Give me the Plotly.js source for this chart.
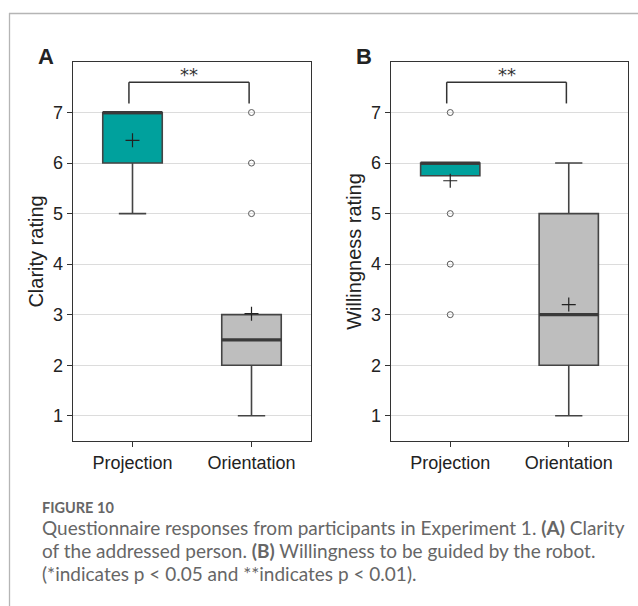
<!DOCTYPE html>
<html><head><meta charset="utf-8">
<script src="https://cdn.plot.ly/plotly-3.0.1.min.js"></script>
<style>html,body{margin:0;padding:0;background:#fff;}#chart{width:638px;height:606px;}</style>
</head><body><div id="chart"></div>
<script>
// ---- data ----
const categories = ["Projection", "Orientation"];
const boxColors = ["#00A19D", "#BEBEBE"];
// Panel A: Clarity rating
const clarityQ1 = [6, 2];
const clarityMedian = [7, 2.5];
const clarityQ3 = [7, 3];
const clarityLow = [5, 1];
const clarityHigh = [7, 3];
const clarityMean = [6.45, 3.02];
const clarityOutliers = [[], [5, 6, 7]];
// Panel B: Willingness rating
const willQ1 = [5.75, 2];
const willMedian = [6, 3];
const willQ3 = [6, 5];
const willLow = [5.75, 1];
const willHigh = [6, 6];
const willMean = [5.65, 3.2];
const willOutliers = [[7, 5, 4, 3], []];
const yTicks = [1, 2, 3, 4, 5, 6, 7];
const sigLabel = ["**", "**"];
const panelLabels = ["A", "B"];
const yTitles = ["Clarity rating", "Willingness rating"];

const W = 638, H = 606;
const px = v => v / W, py = v => 1 - v / H;
const outline = "#444444";

const traces = [];
const shapes = [];
const annotations = [];

function addPanel(ax, q1, med, q3, lo, hi, mean, outl, sig) {
  const xa = ax === 1 ? "x" : "x2", ya = ax === 1 ? "y" : "y2";
  categories.forEach((c, i) => {
    traces.push({
      type: "box", x: [c], q1: [q1[i]], median: [med[i]], q3: [q3[i]],
      lowerfence: [lo[i]], upperfence: [hi[i]], width: 0.5, whiskerwidth: 0.46,
      fillcolor: boxColors[i], line: {color: outline, width: 1.6},
      boxpoints: false, xaxis: xa, yaxis: ya, hoverinfo: "skip", showlegend: false
    });
    shapes.push({type: "line", xref: xa, yref: ya, x0: i - 0.25, x1: i + 0.25,
      y0: med[i], y1: med[i], line: {color: "#3a3a3a", width: 3.2}, layer: "above"});
    if (outl[i].length) {
      traces.push({type: "scatter", mode: "markers", x: outl[i].map(() => c), y: outl[i],
        marker: {symbol: "circle-open", size: 6, color: "#5a5a5a", line: {width: 1}},
        xaxis: xa, yaxis: ya, hoverinfo: "skip", showlegend: false});
    }
  });
  traces.push({type: "scatter", mode: "markers", x: categories, y: mean,
    marker: {symbol: "cross-thin-open", size: 10, color: "#222", line: {width: 1.2, color: "#222"}},
    xaxis: xa, yaxis: ya, hoverinfo: "skip", showlegend: false});
  // significance bracket
  const b0 = -0.03, b1 = 0.98, yb = 7.6, yl = 7.18;
  [[b0, yl, b0, yb], [b0, yb, b1, yb], [b1, yb, b1, yl]].forEach(s => {
    shapes.push({type: "line", xref: xa, yref: ya, x0: s[0], y0: s[1], x1: s[2], y1: s[3],
      line: {color: "#333", width: 1.5}});
  });
  annotations.push({xref: xa, yref: ya, x: (b0 + b1) / 2, y: yb, text: sig, showarrow: false,
    yanchor: "bottom", yshift: -5, font: {family: "DejaVu Sans", size: 18, color: "#333"}});
}

addPanel(1, clarityQ1, clarityMedian, clarityQ3, clarityLow, clarityHigh, clarityMean, clarityOutliers, sigLabel[0]);
addPanel(2, willQ1, willMedian, willQ3, willLow, willHigh, willMean, willOutliers, sigLabel[1]);

const axFont = {family: "Liberation Sans, Arial", size: 18, color: "#222"};
function xAxis(dom, anchor) {
  return {domain: dom, anchor: anchor, type: "category", range: [-0.5, 1.5],
    showline: true, mirror: true, linecolor: "#333", linewidth: 1.3,
    ticks: "outside", ticklen: 5, tickcolor: "#333", tickfont: axFont,
    showgrid: false, zeroline: false, automargin: false, fixedrange: true};
}
function yAxis(anchor, title) {
  return {domain: [py(441), py(62)], anchor: anchor, range: [0.5, 8.0],
    tickvals: yTicks, ticktext: yTicks.map(String),
    showline: true, mirror: true, linecolor: "#333", linewidth: 1.3,
    ticks: "outside", ticklen: 5, tickcolor: "#333", tickfont: axFont,
    showgrid: true, gridcolor: "#dcdcdc", gridwidth: 1, zeroline: false,
    title: {text: title, font: {family: "Liberation Sans, Arial", size: 20, color: "#222"}, standoff: 4},
    automargin: false, fixedrange: true};
}

// panel labels
annotations.push({xref: "paper", yref: "paper", x: px(36), y: py(56), text: "<b>" + panelLabels[0] + "</b>",
  showarrow: false, xanchor: "left", yanchor: "middle", font: {family: "Liberation Sans, Arial", size: 22, color: "#222"}});
annotations.push({xref: "paper", yref: "paper", x: px(354), y: py(56), text: "<b>" + panelLabels[1] + "</b>",
  showarrow: false, xanchor: "left", yanchor: "middle", font: {family: "Liberation Sans, Arial", size: 22, color: "#222"}});

// caption
const capFont = {family: "Lato", size: 19, color: "#666"};
annotations.push({xref: "paper", yref: "paper", x: px(40), y: py(507), text: "<b>FIGURE 10</b>", showarrow: false,
  xanchor: "left", yanchor: "middle", font: {family: "Lato", size: 14.5, color: "#666"}});
const capLines = [
  "Questionnaire responses from participants in Experiment 1. <b>(A)</b> Clarity",
  "of the addressed person. <b>(B)</b> Willingness to be guided by the robot.",
  "(*indicates p &lt; 0.05 and **indicates p &lt; 0.01)."
];
capLines.forEach((t, i) => annotations.push({xref: "paper", yref: "paper", x: px(40), y: py(527 + 23 * i),
  text: t, showarrow: false, xanchor: "left", yanchor: "middle", font: capFont}));

// frame
shapes.push({type: "line", xref: "paper", yref: "paper", x0: px(9), x1: 1, y0: py(13.5), y1: py(13.5), line: {color: "#b5b5b5", width: 1.3}});
shapes.push({type: "line", xref: "paper", yref: "paper", x0: px(9.5), x1: px(9.5), y0: py(13), y1: 0, line: {color: "#b5b5b5", width: 1.3}});

const layout = {
  width: W, height: H, margin: {l: 0, r: 0, t: 0, b: 0},
  paper_bgcolor: "#fff", plot_bgcolor: "#fff", boxmode: "overlay", showlegend: false,
  xaxis: xAxis([px(73), px(311)], "y"),
  yaxis: yAxis("x", yTitles[0]),
  xaxis2: xAxis([px(391), px(628)], "y2"),
  yaxis2: yAxis("x2", yTitles[1]),
  shapes: shapes, annotations: annotations
};
Plotly.newPlot("chart", traces, layout, {displayModeBar: false, staticPlot: true});
</script></body></html>
